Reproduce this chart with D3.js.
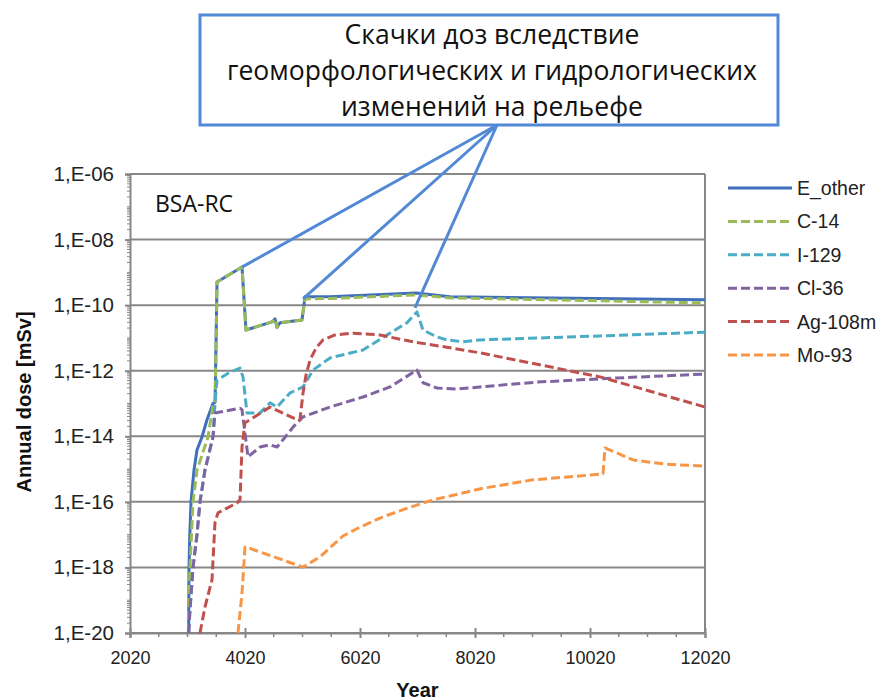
<!DOCTYPE html>
<html>
<head>
<meta charset="utf-8">
<script src="https://cdn.jsdelivr.net/npm/d3@7"></script>
<style>
  body { margin: 0; background: #fff; }
  svg { display: block; }
</style>
</head>
<body>
<svg id="chart" width="880" height="700"></svg>
<script>
// ---- data: [year, annual dose in mSv] ----
const eOther = [
  [3040, 1e-20], [3043, 1e-19], [3046, 1e-18], [3060, 1e-17], [3081, 1e-16],
  [3133, 9.3e-16], [3185, 3.8e-15], [3272, 9.5e-15], [3359, 3.2e-14], [3463, 1e-13],
  [3500, 1.1e-13], [3533, 5.1e-10], [3968, 1.45e-9], [4037, 1.74e-11], [4489, 3.1e-11],
  [4542, 3.8e-11], [4577, 2.1e-11], [4629, 2.9e-11], [5011, 3.5e-11], [5063, 1.8e-10],
  [5498, 1.8e-10], [6994, 2.35e-10], [7585, 1.8e-10], [12020, 1.45e-10]
];
const c14 = [
  [3035, 1e-20], [3063, 1e-18], [3116, 1e-16], [3185, 9.3e-16], [3377, 9.5e-15],
  [3463, 8.9e-14], [3500, 1e-13], [3533, 5.1e-10], [3968, 1.45e-9], [4037, 1.74e-11],
  [4489, 3.1e-11], [4542, 3.8e-11], [4577, 2.1e-11], [4629, 2.9e-11], [5011, 3.5e-11],
  [5063, 1.55e-10], [5498, 1.6e-10], [6994, 2.05e-10], [7585, 1.66e-10], [12020, 1.17e-10]
];
const i129 = [
  [3040, 1e-20], [3063, 5e-20], [3116, 1e-18], [3185, 1e-17], [3237, 1e-16],
  [3324, 9.3e-16], [3463, 9.5e-15], [3498, 1.05e-13], [3533, 5.2e-13], [3759, 9.1e-13],
  [3933, 1.2e-12], [3985, 6.5e-13], [4055, 5.1e-14], [4281, 5.1e-14], [4455, 1.05e-13],
  [4577, 7.8e-14], [4803, 2.1e-13], [5029, 3.2e-13], [5203, 1.05e-12], [5498, 2.45e-12],
  [6072, 4.3e-12], [6542, 1.4e-11], [6837, 2.9e-11], [7011, 6.2e-11], [7116, 1.74e-11],
  [7359, 1.07e-11], [7533, 8.7e-12], [7811, 7.6e-12], [8107, 8.7e-12], [10194, 1.15e-11],
  [12020, 1.5e-11]
];
const cl36 = [
  [3040, 1e-20], [3063, 5e-20], [3116, 1e-18], [3185, 1e-17], [3237, 1e-16],
  [3324, 9.3e-16], [3463, 9.5e-15], [3498, 5.1e-14], [3585, 5.5e-14], [3933, 7.2e-14],
  [3968, 6.5e-14], [4072, 2.35e-15], [4281, 4.7e-15], [4455, 5.5e-15], [4577, 4.7e-15],
  [4681, 7.8e-15], [4855, 1.9e-14], [5029, 3.9e-14], [5498, 7.8e-14], [6072, 1.58e-13],
  [6542, 3.2e-13], [7011, 1.05e-12], [7116, 4.3e-13], [7359, 2.95e-13], [7707, 2.75e-13],
  [8107, 3.2e-13], [9100, 4.5e-13], [10490, 6e-13], [12020, 7.9e-13]
];
const ag108m = [
  [3237, 1e-20], [3324, 6.2e-20], [3446, 4.2e-19], [3498, 2.3e-17], [3550, 4.6e-17],
  [3881, 9.3e-17], [3933, 1.15e-16], [3968, 4.7e-15], [4020, 2.6e-14], [4107, 3.2e-14],
  [4455, 7.8e-14], [4924, 3.2e-14], [4976, 3.2e-14], [5029, 2.1e-13], [5081, 7.4e-13],
  [5150, 2.1e-12], [5255, 4.9e-12], [5376, 8.7e-12], [5585, 1.23e-11], [5898, 1.4e-11],
  [6368, 1.23e-11], [6942, 7.6e-12], [7533, 5.2e-12], [8107, 3.5e-12], [10194, 6.5e-13],
  [12020, 7.8e-14]
];
const mo93 = [
  [3898, 1e-20], [3968, 1.66e-19], [4020, 4.2e-18], [4107, 3.8e-18], [5029, 1.02e-18],
  [5324, 2.1e-18], [5724, 9.1e-18], [6020, 1.7e-17], [6420, 3.5e-17], [6855, 6.5e-17],
  [7290, 1.15e-16], [8159, 2.6e-16], [9029, 4.7e-16], [10246, 7.1e-16], [10281, 4.4e-15],
  [10368, 3.8e-15], [10768, 1.9e-15], [11359, 1.4e-15], [12020, 1.23e-15]
];

const seriesNames = ["E_other", "C-14", "I-129", "Cl-36", "Ag-108m", "Mo-93"];
const seriesData = [eOther, c14, i129, cl36, ag108m, mo93];
const seriesColors = ["#3f6fbd", "#9bbb59", "#4bacc6", "#8064a2", "#c0504d", "#f79646"];
const seriesDashed = [false, true, true, true, true, true];

const xTicks = [2020, 4020, 6020, 8020, 10020, 12020];
const yTicks = [1e-6, 1e-8, 1e-10, 1e-12, 1e-14, 1e-16, 1e-18, 1e-20];

const panelLabel = "BSA-RC";
const xTitle = "Year";
const yTitle = "Annual dose [mSv]";
const noteLines = [
  "Скачки доз вследствие",
  "геоморфологических и гидрологических",
  "изменений на рельефе"
];
// points the note arrows lead to: [year, dose]
const noteTargets = [[3968, 1.45e-9], [5029, 1.55e-10], [6976, 8.2e-11]];

// ---- layout ----
const svg = d3.select("#chart");
const plot = { left: 130, right: 705, top: 174, bottom: 633 };
const axisGray = "#878787";
const noteBlue = "#5189d6";

const x = d3.scaleLinear().domain([2020, 12020]).range([plot.left, plot.right]);
const y = d3.scaleLog().domain([1e-20, 1e-6]).range([plot.bottom, plot.top]);

svg.append("defs").append("clipPath").attr("id", "plotClip")
  .append("rect")
  .attr("x", plot.left).attr("y", plot.top - 2)
  .attr("width", plot.right - plot.left).attr("height", plot.bottom - plot.top + 2);

// horizontal gridlines
svg.append("g").selectAll("line").data(yTicks).join("line")
  .attr("x1", plot.left).attr("x2", plot.right)
  .attr("y1", d => y(d)).attr("y2", d => y(d))
  .attr("stroke", axisGray).attr("stroke-width", 2);

// plot frame (right edge)
svg.append("line")
  .attr("x1", plot.right).attr("x2", plot.right)
  .attr("y1", plot.top).attr("y2", plot.bottom)
  .attr("stroke", axisGray).attr("stroke-width", 2);

// y axis with log minor ticks
const yAxis = svg.append("g").attr("transform", `translate(${plot.left},0)`)
  .call(d3.axisLeft(y).tickValues(yTicks).tickSize(5).tickPadding(11)
    .tickFormat(d => "1,E-" + String(Math.round(-Math.log10(d))).padStart(2, "0")));
yAxis.select(".domain").attr("stroke", axisGray).attr("stroke-width", 2);
yAxis.selectAll(".tick line").attr("stroke", axisGray).attr("stroke-width", 2);
yAxis.selectAll(".tick text")
  .attr("font-family", "Liberation Sans, Arial, sans-serif")
  .attr("font-size", 20.5).attr("fill", "#222");

const yMinor = [];
for (let e = -20; e < -6; e++) {
  for (let k = 1; k <= 9; k++) {
    if (k === 1 && e % 2 === 0) continue;
    yMinor.push(k * Math.pow(10, e));
  }
}
svg.append("g").selectAll("line").data(yMinor).join("line")
  .attr("x1", plot.left - 3).attr("x2", plot.left)
  .attr("y1", d => y(d)).attr("y2", d => y(d))
  .attr("stroke", axisGray).attr("stroke-width", 1);

// x axis with minor ticks every 500 years
const xAxis = svg.append("g").attr("transform", `translate(0,${plot.bottom})`)
  .call(d3.axisBottom(x).tickValues(xTicks).tickSize(5).tickPadding(13)
    .tickFormat(d3.format("d")));
xAxis.select(".domain").attr("stroke", axisGray).attr("stroke-width", 2);
xAxis.selectAll(".tick line").attr("stroke", axisGray).attr("stroke-width", 2).attr("y1", -5);
xAxis.selectAll(".tick text")
  .attr("font-family", "Liberation Sans, Arial, sans-serif")
  .attr("font-size", 18).attr("fill", "#222");

const xMinor = d3.range(2520, 12020, 500).filter(v => !xTicks.includes(v));
svg.append("g").selectAll("line").data(xMinor).join("line")
  .attr("x1", d => x(d)).attr("x2", d => x(d))
  .attr("y1", plot.bottom).attr("y2", plot.bottom + 4)
  .attr("stroke", axisGray).attr("stroke-width", 1.5);

// axis titles
svg.append("text")
  .attr("x", (plot.left + plot.right) / 2).attr("y", 697)
  .attr("text-anchor", "middle")
  .attr("font-family", "Liberation Sans, Arial, sans-serif")
  .attr("font-size", 20).attr("font-weight", "bold").attr("fill", "#111")
  .text(xTitle);
svg.append("text")
  .attr("transform", "translate(31,402) rotate(-90)")
  .attr("text-anchor", "middle")
  .attr("font-family", "Liberation Sans, Arial, sans-serif")
  .attr("font-size", 20).attr("font-weight", "bold").attr("fill", "#111")
  .text(yTitle);

// series
const line = d3.line().x(d => x(d[0])).y(d => y(d[1]));
const linesG = svg.append("g").attr("clip-path", "url(#plotClip)");
seriesData.forEach((data, i) => {
  linesG.append("path")
    .datum(data)
    .attr("d", line)
    .attr("fill", "none")
    .attr("stroke", seriesColors[i])
    .attr("stroke-width", 3)
    .attr("stroke-linejoin", "round")
    .attr("stroke-dasharray", seriesDashed[i] ? "9,4" : null);
});

// panel label
svg.append("text")
  .attr("x", 155).attr("y", 212)
  .attr("font-family", "Open Sans, sans-serif")
  .attr("font-size", 23).attr("fill", "#111")
  .text(panelLabel);

// legend
const legend = svg.append("g").attr("transform", "translate(728,188)");
seriesNames.forEach((name, i) => {
  const row = legend.append("g").attr("transform", `translate(0,${i * 33.4})`);
  row.append("line")
    .attr("x1", 0).attr("x2", 64).attr("y1", 0).attr("y2", 0)
    .attr("stroke", seriesColors[i]).attr("stroke-width", 3)
    .attr("stroke-dasharray", seriesDashed[i] ? "9,4" : null);
  row.append("text")
    .attr("x", 69).attr("y", 7)
    .attr("font-family", "Liberation Sans, Arial, sans-serif")
    .attr("font-size", 19.5).attr("fill", "#222")
    .text(name);
});

// note box with arrows
const box = { x: 200, y: 15, w: 578, h: 110 };
const noteOrigin = [497, box.y + box.h];
svg.append("g").selectAll("line").data(noteTargets).join("line")
  .attr("x1", noteOrigin[0]).attr("y1", noteOrigin[1])
  .attr("x2", d => x(d[0])).attr("y2", d => y(d[1]))
  .attr("stroke", noteBlue).attr("stroke-width", 3);
svg.append("rect")
  .attr("x", box.x).attr("y", box.y).attr("width", box.w).attr("height", box.h)
  .attr("fill", "#fff").attr("stroke", noteBlue).attr("stroke-width", 3);
svg.append("g").selectAll("text").data(noteLines).join("text")
  .attr("x", box.x + box.w / 2 + 3)
  .attr("y", (d, i) => 44 + i * 36)
  .attr("text-anchor", "middle")
  .attr("font-family", "Open Sans, sans-serif")
  .attr("font-size", 26.5).attr("fill", "#111")
  .text(d => d);
</script>
</body>
</html>
